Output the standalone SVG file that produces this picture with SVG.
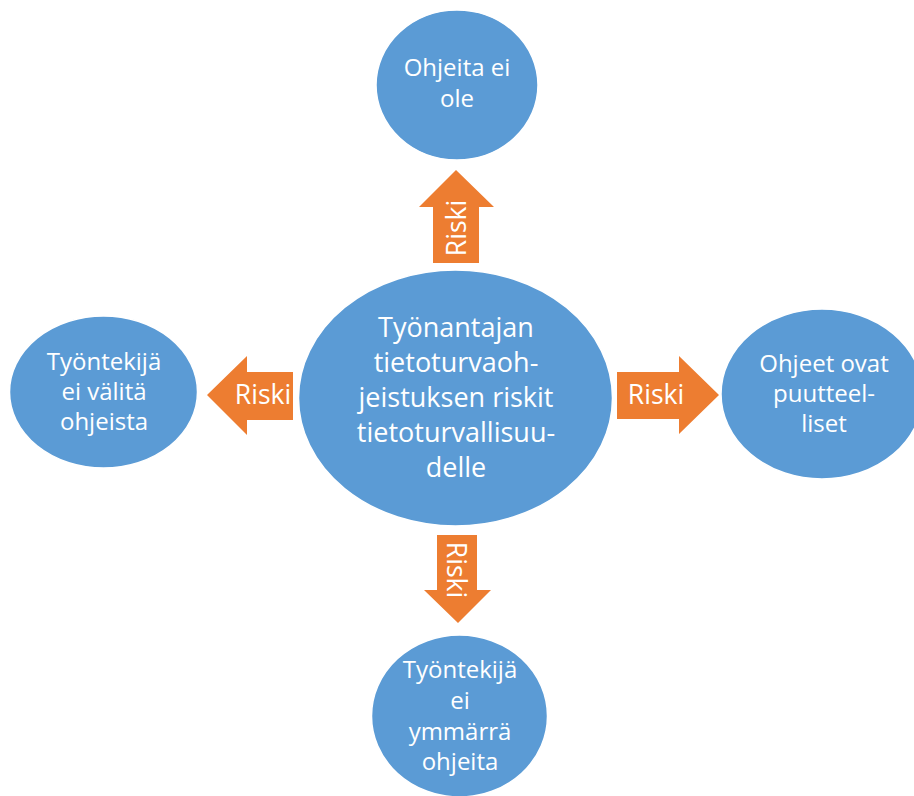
<svg xmlns="http://www.w3.org/2000/svg" width="914" height="796" viewBox="0 0 914 796">
<style>
.node{fill:#5B9BD5;stroke:#ffffff;stroke-width:1.5}
.arrow{fill:#ED7D31}
text{font-family:"Open Sans","Noto Sans","Liberation Sans",sans-serif;fill:#ffffff;text-anchor:middle}
.big{font-size:27px}
.small{font-size:24px}
.lbl{font-size:26.5px}
</style>
<rect width="914" height="796" fill="#ffffff"/>
<g id="connectors">
<g id="arrow-up"><polygon class="arrow" points="456,170 494,207 479,207 479,263 433,263 433,207 419,207"/><text class="lbl" transform="translate(456,228) rotate(-90)" dominant-baseline="central">Riski</text></g>
<g id="arrow-down"><polygon class="arrow" points="437,535 477,535 477,590 491,590 458,623 424,590 437,590"/><text class="lbl" transform="translate(457,570) rotate(90)" dominant-baseline="central">Riski</text></g>
<g id="arrow-left"><polygon class="arrow" points="207,395 247,356 247,372 293,372 293,420 247,420 247,435"/><text class="lbl" x="263" y="404">Riski</text></g>
<g id="arrow-right"><polygon class="arrow" points="617,372 679,372 679,356 719,395 679,434 679,419 617,419"/><text class="lbl" x="656" y="404">Riski</text></g>
</g>
<g id="center">
<ellipse class="node" cx="455.5" cy="398" rx="157" ry="128"/>
<text class="big"><tspan x="456" y="337">Työnantajan</tspan><tspan x="456" y="372">tietoturvaoh-</tspan><tspan x="456" y="407">jeistuksen riskit</tspan><tspan x="456" y="442">tietoturvallisuu-</tspan><tspan x="456" y="477">delle</tspan></text>
</g>
<g id="top">
<ellipse class="node" cx="457" cy="85" rx="81" ry="75"/>
<text class="small"><tspan x="457" y="76">Ohjeita ei</tspan><tspan x="457" y="107">ole</tspan></text>
</g>
<g id="left">
<ellipse class="node" cx="103.5" cy="392" rx="94" ry="76"/>
<text class="small"><tspan x="104" y="370">Työntekijä</tspan><tspan x="104" y="400">ei välitä</tspan><tspan x="104" y="430">ohjeista</tspan></text>
</g>
<g id="right">
<ellipse class="node" cx="822" cy="394" rx="101" ry="85"/>
<text class="small"><tspan x="824" y="372">Ohjeet ovat</tspan><tspan x="824" y="402">puutteel-</tspan><tspan x="824" y="432">liset</tspan></text>
</g>
<g id="bottom">
<ellipse class="node" cx="459.5" cy="716" rx="88" ry="81"/>
<text class="small"><tspan x="460" y="678">Työntekijä</tspan><tspan x="460" y="709">ei</tspan><tspan x="460" y="740">ymmärrä</tspan><tspan x="460" y="770">ohjeita</tspan></text>
</g>
</svg>
